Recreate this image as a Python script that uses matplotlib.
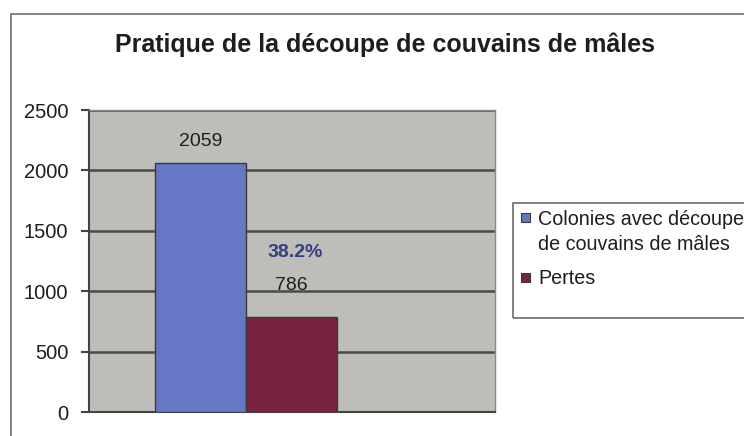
import matplotlib
matplotlib.use("Agg")
import matplotlib.pyplot as plt
from matplotlib.patches import Rectangle

plt.rcParams["font.family"] = ["Liberation Sans", "DejaVu Sans"]

# Data
TITLE = "Pratique de la découpe de couvains de mâles"
categories = ["Colonies avec découpe\nde couvains de mâles", "Pertes"]
values = [2059, 786]
share_label = "38.2%"
yticks = [0, 500, 1000, 1500, 2000, 2500]

colors = ["#6677c6", "#7a2242"]

W, H = 744, 436
fig = plt.figure(figsize=(W / 100, H / 100), dpi=100)
fig.patch.set_facecolor("white")

# outer chart border (clipped by the picture edge at right/bottom)
fig.patches.append(Rectangle((11 / W, -0.1), 1.2, 1 - 14 / H + 0.1,
                             transform=fig.transFigure, fill=False,
                             edgecolor="#707070", linewidth=1.2))

ax = fig.add_axes([89 / W, (H - 412) / H, 406 / W, 302 / H])
ax.set_facecolor("#bdbdb9")

xpos = [-0.5, 0.5]
ax.bar(xpos, values, width=1.0, color=colors, edgecolor="#3a3a3a",
       linewidth=1.0, zorder=3)
ax.set_xlim(-1.725, 2.736)
ax.set_ylim(0, 2500)
ax.set_yticks(yticks)
ax.set_xticks([])

ax.yaxis.grid(True, color="#4a4a4a", linewidth=1.8, zorder=1)
ax.set_axisbelow(True)

for side in ["top", "right"]:
    ax.spines[side].set_color("#8a8a8a")
    ax.spines[side].set_linewidth(1.0)
ax.spines["left"].set_color("#444444")
ax.spines["left"].set_linewidth(1.5)
ax.spines["bottom"].set_color("#444444")
ax.spines["bottom"].set_linewidth(1.5)

ax.tick_params(axis="y", length=6, width=1.5, color="#444444",
               labelsize=14.5, labelcolor="#1e1e1e", pad=9)

# value labels
ax.annotate(str(values[0]), (xpos[0], values[0]), xytext=(0, 22),
            textcoords="offset pixels", ha="center", va="center",
            fontsize=14, color="#1e1e1e")
ax.annotate(str(values[1]), (xpos[1], values[1]), xytext=(0, 32),
            textcoords="offset pixels", ha="center", va="center",
            fontsize=14, color="#1e1e1e")
ax.annotate(share_label, (xpos[1], values[1]), xytext=(4, 65),
            textcoords="offset pixels", ha="center", va="center",
            fontsize=14, fontweight="bold", color="#343f86")

fig.text(385 / W, 1 - 45 / H, TITLE, ha="center", va="center",
         fontsize=18, fontweight="bold", color="#1e1e1e")

# legend drawn by hand: box runs past the right edge, marker sits on first line
fig.patches.append(Rectangle((513 / W, 1 - 318 / H), 0.5, 115 / H,
                             transform=fig.transFigure, fill=False,
                             edgecolor="#6a6a6a", linewidth=1.2))
entry_tops = [218, 277]  # pixel y of each entry's first line
for label, c, y in zip(categories, colors, entry_tops):
    fig.patches.append(Rectangle((521 / W, 1 - (y + 4.5) / H), 9 / W, 9 / H,
                                 transform=fig.transFigure, facecolor=c,
                                 edgecolor="#3a3a3a", linewidth=0.8))
    fig.text(538 / W, 1 - (y - 8) / H, label, ha="left", va="top",
             fontsize=14.2, color="#1e1e1e", linespacing=1.4)

fig.savefig("out.png", dpi=100)
